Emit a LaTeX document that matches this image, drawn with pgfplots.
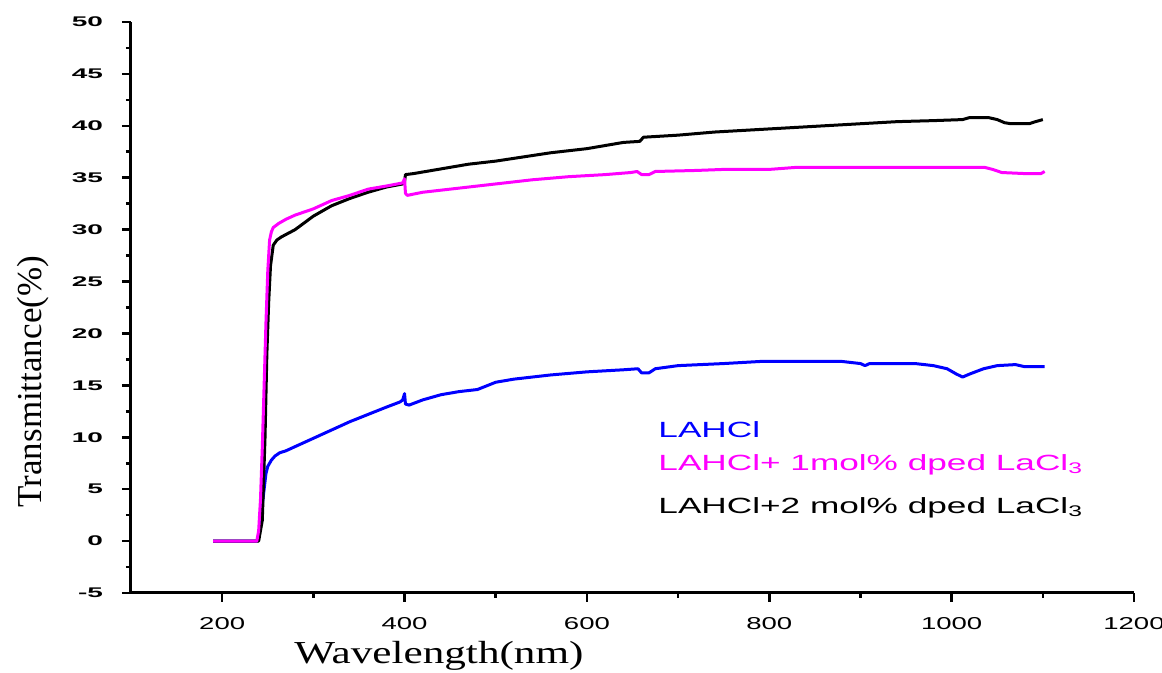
\documentclass[border=0pt]{standalone}
\usepackage{fontspec}
\setmainfont{Liberation Sans}
\newfontfamily\timesfont{Liberation Serif}
\usepackage{graphicx}
\usepackage{pgfplots}
\pgfplotsset{compat=1.18}
\usetikzlibrary{calc}

\definecolor{lblue}{RGB}{0,0,255}
\definecolor{lpink}{RGB}{255,0,255}

\pgfplotstableread{
x y
190 0
238 0
240 0.5
242 2
244 3.5
246 5
248 6.5
250 7.2
254 7.8
258 8.2
263 8.5
270 8.7
280 9.1
300 9.9
320 10.7
340 11.5
360 12.2
380 12.9
395 13.4
398 13.6
400 14.2
401 13.2
405 13.1
420 13.6
440 14.1
460 14.4
480 14.6
500 15.3
520 15.6
540 15.8
560 16.0
600 16.3
640 16.5
656 16.6
660 16.2
668 16.2
675 16.6
700 16.9
750 17.1
790 17.3
880 17.3
890 17.2
900 17.1
905 16.9
910 17.1
960 17.1
980 16.9
995 16.6
1005 16.1
1012 15.8
1020 16.1
1035 16.6
1050 16.9
1070 17.0
1080 16.8
1102 16.8
}\lahci

\pgfplotstableread{
x y
190 0
238 0
240 1
242 4
244 9
246 15
248 21
250 26
252 29
254 29.8
256 30.2
262 30.6
270 31.0
280 31.4
290 31.7
300 32.0
320 32.8
340 33.3
350 33.6
360 33.9
380 34.2
398 34.5
400 34.9
401 33.5
403 33.3
420 33.6
450 33.9
480 34.2
500 34.4
540 34.8
580 35.1
620 35.3
648 35.5
655 35.6
660 35.3
668 35.3
675 35.6
720 35.7
750 35.8
800 35.8
830 36.0
900 36.0
1000 36.0
1036 36.0
1045 35.8
1055 35.5
1080 35.4
1098 35.4
1102 35.6
}\lahcione

\pgfplotstableread{
x y
190 0
240 0
244 2
247 10
249 18
251 23
253 26.5
256 28.5
260 29.0
265 29.3
280 30.0
300 31.3
320 32.3
340 33.0
360 33.6
380 34.1
398 34.4
400 34.6
401 35.3
410 35.4
430 35.7
450 36.0
470 36.3
500 36.6
530 37.0
560 37.4
600 37.8
640 38.4
658 38.5
662 38.9
700 39.1
740 39.4
780 39.6
820 39.8
860 40.0
900 40.2
940 40.4
980 40.5
1012 40.6
1020 40.8
1040 40.8
1050 40.6
1058 40.3
1065 40.2
1085 40.2
1092 40.4
1100 40.6
}\lahcitwo

\begin{document}
\begin{tikzpicture}
\begin{axis}[
  name=ax,
  scale only axis, width=501.5pt, height=285.5pt,
  xmin=100, xmax=1200, ymin=-5, ymax=50,
  axis lines*=left,
  axis line style={line width=1.5pt},
  xtick={200,400,...,1200}, ytick={-5,0,...,50},
  minor x tick num=1, minor y tick num=1,
  tick align=outside, major tick length=4.5pt, minor tick length=2.5pt,
  every tick/.style={line width=1.3pt, black},
  /pgf/number format/assume math mode=true,
  /pgf/number format/1000 sep={},
  xticklabel={\scalebox{1.6}[1]{\fontsize{8.6}{10}\selectfont\pgfmathprintnumber{\tick}}},
  yticklabel={\scalebox{2.0}[1]{\fontsize{7}{8}\selectfont\bfseries\pgfmathprintnumber{\tick}}},
  xticklabel style={yshift=-4pt},
  yticklabel style={xshift=-6pt},
  xlabel={\scalebox{1.35}[1]{\timesfont\fontsize{16}{18}\selectfont Wavelength(nm)}},
  xlabel style={at={(axis description cs:0.307,0)}, anchor=base, yshift=-35.5pt, inner sep=0pt},
  ylabel={\timesfont\fontsize{17.5}{19}\selectfont Transmittance(\%)},
  ylabel style={at={(axis description cs:-0.081,0.37)}, anchor=south, inner sep=0pt},
  every axis plot/.append style={line width=1.5pt, line join=round},
]
\addplot[lblue] table {\lahci};
\addplot[black] table {\lahcitwo};
\addplot[lpink] table {\lahcione};
\node[anchor=base west, text=lblue, inner sep=0pt] at (axis cs:678,10.0)
  {\scalebox{1.6}[1]{\fontsize{11}{12}\selectfont LAHCl}};
\node[anchor=base west, text=lpink, inner sep=0pt] at (axis cs:678,6.8)
  {\scalebox{1.6}[1]{\fontsize{11}{12}\selectfont LAHCl+ 1mol\% dped LaCl\textsubscript{3}}};
\node[anchor=base west, text=black, inner sep=0pt] at (axis cs:678,2.7)
  {\scalebox{1.6}[1]{\fontsize{11}{12}\selectfont LAHCl+2 mol\% dped LaCl\textsubscript{3}}};
\end{axis}
\pgfresetboundingbox
\path[use as bounding box] ($(ax.south west)+(-65.5pt,-40pt)$) rectangle ($(ax.north east)+(14pt,11pt)$);
\end{tikzpicture}
\end{document}
